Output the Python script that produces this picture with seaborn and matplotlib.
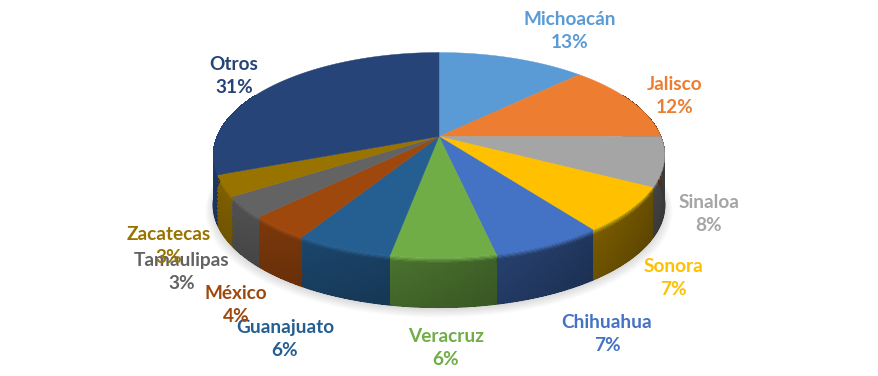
import numpy as np
import matplotlib
matplotlib.use("Agg")
import matplotlib.pyplot as plt
from matplotlib.collections import PolyCollection, LineCollection
from matplotlib.patches import Polygon
from matplotlib.path import Path
from matplotlib.transforms import Transform, Affine2D
import seaborn as sns

states = ["Michoacán", "Jalisco", "Sinaloa", "Sonora", "Chihuahua", "Veracruz",
          "Guanajuato", "México", "Tamaulipas", "Zacatecas", "Otros"]
shares = [12.6, 12.4, 7.8, 7.1, 6.7, 6.3, 5.8, 3.8, 3.3, 3.3, 30.9]
hex_colors = ["#5B9BD5", "#ED7D31", "#A5A5A5", "#FFC000", "#4472C4", "#70AD47",
              "#255E91", "#9E480E", "#636363", "#997300", "#264478"]

# label centres in pixels (layout only)
label_xy = [(570, 31), (675, 96), (709, 214), (673, 278), (607, 334), (446, 348),
            (285, 339), (236, 305), (182, 272), (169, 246), (234, 76)]

sns.set_theme(style="white")
plt.rcParams["font.family"] = ["Lato", "DejaVu Sans"]
palette = sns.color_palette(hex_colors)

CX, CY, W, H, K, DEPTH = 439.0, 136.5, 222.0, 99.1, 0.18, 50.0


def project(x, y, shift=0.0, scale=1.0):
    d = 1 + K * y
    return CX + scale * W * x / d, CY - scale * H * y / d + shift


class Perspective(Transform):
    input_dims = output_dims = 2
    is_affine = False

    def transform_non_affine(self, v):
        v = np.asarray(v, float)
        px, py = project(v[:, 0], v[:, 1])
        return np.column_stack([px, py])

    def transform_path_non_affine(self, path):
        up = Affine2D().scale(2000)
        poly = path.to_polygons(transform=up, closed_only=True)[0] / 2000
        return Path(self.transform_non_affine(poly), closed=True)


fig = plt.figure(figsize=(8.79, 3.76), dpi=100, facecolor="white")
ax = fig.add_axes([0, 0, 1, 1])

wedges, _ = ax.pie(shares, colors=palette, startangle=90, counterclock=False,
                   radius=1.0, wedgeprops=dict(linewidth=0))
ax.set_aspect("auto")
ax.set_xlim(0, 879)
ax.set_ylim(376, 0)
ax.axis("off")

for w in wedges:
    w.set_transform(Perspective() + ax.transData)
    w.set_zorder(5)
    w.set_edgecolor(w.get_facecolor())
    w.set_linewidth(0.3)

# soft shadow under the disc
circle = np.linspace(0, 2 * np.pi, 240)
for i in range(14):
    s = 1.035 - i * 0.0045
    sx, sy = project(np.sin(circle), np.cos(circle), shift=DEPTH + 6 - i * 0.5, scale=s)
    ax.add_patch(Polygon(np.column_stack([sx, sy]), closed=True, facecolor="black",
                         edgecolor="none", alpha=0.014, zorder=1))

# rim: a bevel at the upper edge, then a side wall shaded from left to right
fractions = np.cumsum([0] + shares) / sum(shares)
levels = np.r_[np.linspace(0, 0.12, 6), np.linspace(0.16, 1.0, 12)]
quads, cols, keys = [], [], []
edge_segs, edge_cols = [], []
for i, col in enumerate(palette):
    col = np.array(col)
    a0, a1 = fractions[i] * 2 * np.pi, fractions[i + 1] * 2 * np.pi
    n = max(2, int((a1 - a0) / np.radians(0.6)))
    angs = np.linspace(a0, a1, n + 1)
    for j in range(n):
        t0, t1 = angs[j], angs[j + 1]
        tm = (t0 + t1) / 2
        if np.cos(tm) > 0.45:
            continue
        nx = np.sin(tm)
        base = 0.62 - 0.24 * nx
        for v0, v1 in zip(levels[:-1], levels[1:]):
            vm = (v0 + v1) / 2
            xa, ya = project(np.sin(t0), np.cos(t0), v0 * DEPTH)
            xb, yb = project(np.sin(t1), np.cos(t1), v0 * DEPTH)
            xc, yc = project(np.sin(t1), np.cos(t1), v1 * DEPTH)
            xd, yd = project(np.sin(t0), np.cos(t0), v1 * DEPTH)
            c = col * base * (1 - 0.12 * vm)
            if vm < 0.12:
                front = max(0.0, -np.cos(tm)) ** 0.5
                blend = (1 - vm / 0.12) * front * 0.85
                lit = np.clip(col * 1.12 + 0.04, 0, 1)
                c = c * (1 - blend) + lit * blend
            quads.append([(xa, ya), (xb, yb), (xc, yc), (xd, yd)])
            cols.append(np.clip(c, 0, 1))
            keys.append(ya)
        edge_segs.append([(xd, yd), (xc, yc)])
        edge_cols.append(np.clip(col * base * 0.88, 0, 1))

order = np.argsort(keys)
ax.add_collection(PolyCollection([quads[k] for k in order],
                                 facecolors=[cols[k] for k in order],
                                 edgecolors="none", linewidths=0,
                                 antialiaseds=False, zorder=3))
ax.add_collection(LineCollection(edge_segs, colors=edge_cols, linewidths=1.0,
                                 capstyle="round", zorder=4))

for name, share, col, (lx, ly) in zip(states, shares, palette, label_xy):
    ax.text(lx, ly, f"{name}\n{round(share)}%", color=col, fontsize=13.7, fontweight="bold",
            ha="center", va="center", linespacing=1.42, zorder=8)

fig.savefig("out.png", dpi=100, facecolor="white")
